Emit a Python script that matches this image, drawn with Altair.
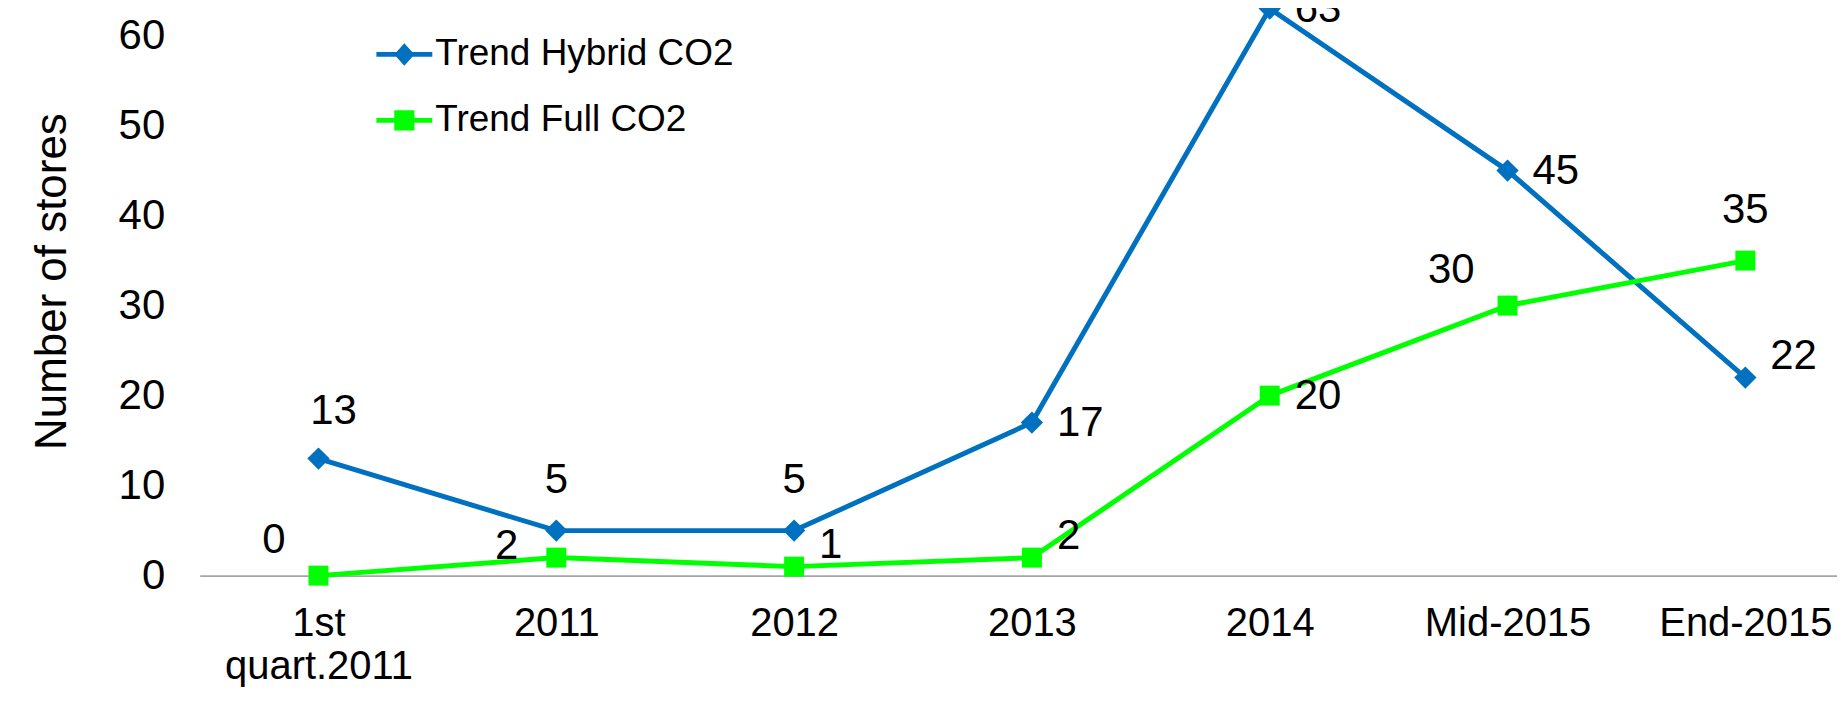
import altair as alt
import pandas as pd

# ---- data ----
categories = ["1st quart.2011", "2011", "2012", "2013", "2014", "Mid-2015", "End-2015"]
hybrid_values = [13, 5, 5, 17, 63, 45, 22]
full_values = [0, 2, 1, 2, 20, 30, 35]
series_names = ["Trend Hybrid CO2", "Trend Full CO2"]
# data-label placement (like Excel's label position option)
hybrid_label_place = ["aboveright", "above", "above", "right", "right", "right", "upright"]
full_label_place = ["upleft", "left", "upright", "upright", "right", "upleft", "above"]

# ---- styles ----
series_colors = ["#0070C0", "#00FF00"]
series_shapes = ["diamond", "square"]
series_sizes = [500, 400]
FONT = "Liberation Sans"
legend_paths = [
    "M-1,-0.085H1V0.085H-1Z M0,-0.4L0.36,0L0,0.4L-0.36,0Z",
    "M-1,-0.085H1V0.085H-1Z M-0.36,-0.36H0.36V0.36H-0.36Z",
]

rows = []
for s, vals, places in [
    (series_names[0], hybrid_values, hybrid_label_place),
    (series_names[1], full_values, full_label_place),
]:
    for i, (c, v, p) in enumerate(zip(categories, vals, places)):
        rows.append({"category": c, "idx": i, "value": v, "series": s, "place": p})
df = pd.DataFrame(rows)

x_enc = alt.X(
    "category:N",
    sort=categories,
    scale=alt.Scale(type="point", padding=0.4425, align=0.5645),
    axis=alt.Axis(
        title=None,
        labelExpr="split(datum.label, ' ')",
        labelAngle=0,
        labelFont=FONT,
        labelFontSize=40,
        labelColor="black",
        labelPadding=28,
        labelLineHeight=43,
        labelLimit=0,
        labelOverlap=False,
        ticks=False,
        tickSize=0,
        domainColor="#a6a6a6",
        domainWidth=2,
        grid=False,
    ),
)
y_enc = alt.Y(
    "value:Q",
    scale=alt.Scale(domain=[0, 63], nice=False),
    axis=alt.Axis(
        values=list(range(0, 61, 10)),
        title="Number of stores",
        titleFont=FONT,
        titleFontSize=44,
        titleFontWeight="normal",
        titleColor="black",
        titleAngle=270,
        titleX=-147,
        titleY=273,
        titleAlign="center",
        titleBaseline="middle",
        labelFont=FONT,
        labelFontSize=42,
        labelColor="black",
        labelPadding=35,
        ticks=False,
        tickSize=0,
        domain=False,
        grid=False,
    ),
)

base = alt.Chart(df).encode(x=x_enc, y=y_enc)

layers = []
for s, col in zip(series_names, series_colors):
    layers.append(
        base.transform_filter(alt.datum.series == s)
        .mark_line(strokeWidth=5, color=col)
        .encode(order=alt.Order("idx:Q"))
    )
for s, col, shp, sz in zip(series_names, series_colors, series_shapes, series_sizes):
    layers.append(
        base.transform_filter(alt.datum.series == s)
        .mark_point(shape=shp, filled=True, size=sz, opacity=1, color=col)
    )

leg = alt.Legend(
    orient="none",
    legendX=177,
    legendY=18,
    title=None,
    symbolSize=3136,
    symbolStrokeWidth=0,
    symbolOpacity=1,
    labelFont=FONT,
    labelFontSize=37,
    labelColor="black",
    labelOffset=3,
    labelLimit=0,
    rowPadding=20,
    padding=0,
)
legend_layer = base.mark_point(filled=True, opacity=0).encode(
    color=alt.Color("series:N", scale=alt.Scale(domain=series_names, range=series_colors), legend=leg),
    shape=alt.Shape("series:N", scale=alt.Scale(domain=series_names, range=legend_paths), legend=leg),
)
layers.append(legend_layer)

placements = {
    "above": dict(align="center", dx=0, dy=-51),
    "aboveright": dict(align="center", dx=15, dy=-48),
    "right": dict(align="left", dx=25, dy=0),
    "upright": dict(align="left", dx=25, dy=-22),
    "left": dict(align="right", dx=-38, dy=-12),
    "upleft": dict(align="right", dx=-33, dy=-36),
}
for name, opts in placements.items():
    layers.append(
        base.transform_filter(alt.datum.place == name)
        .mark_text(font=FONT, fontSize=42, color="black", baseline="middle", **opts)
        .encode(text=alt.Text("value:Q"))
    )

chart = (
    alt.layer(*layers)
    .properties(
        width=1640,
        height=568,
        autosize=alt.AutoSizeParams(type="none"),
        padding={"left": 192, "top": 0, "right": 0, "bottom": 112},
        background="white",
    )
    .configure_view(stroke=None)
)

chart.save("out.html", embed_options={"renderer": "svg", "actions": False})
